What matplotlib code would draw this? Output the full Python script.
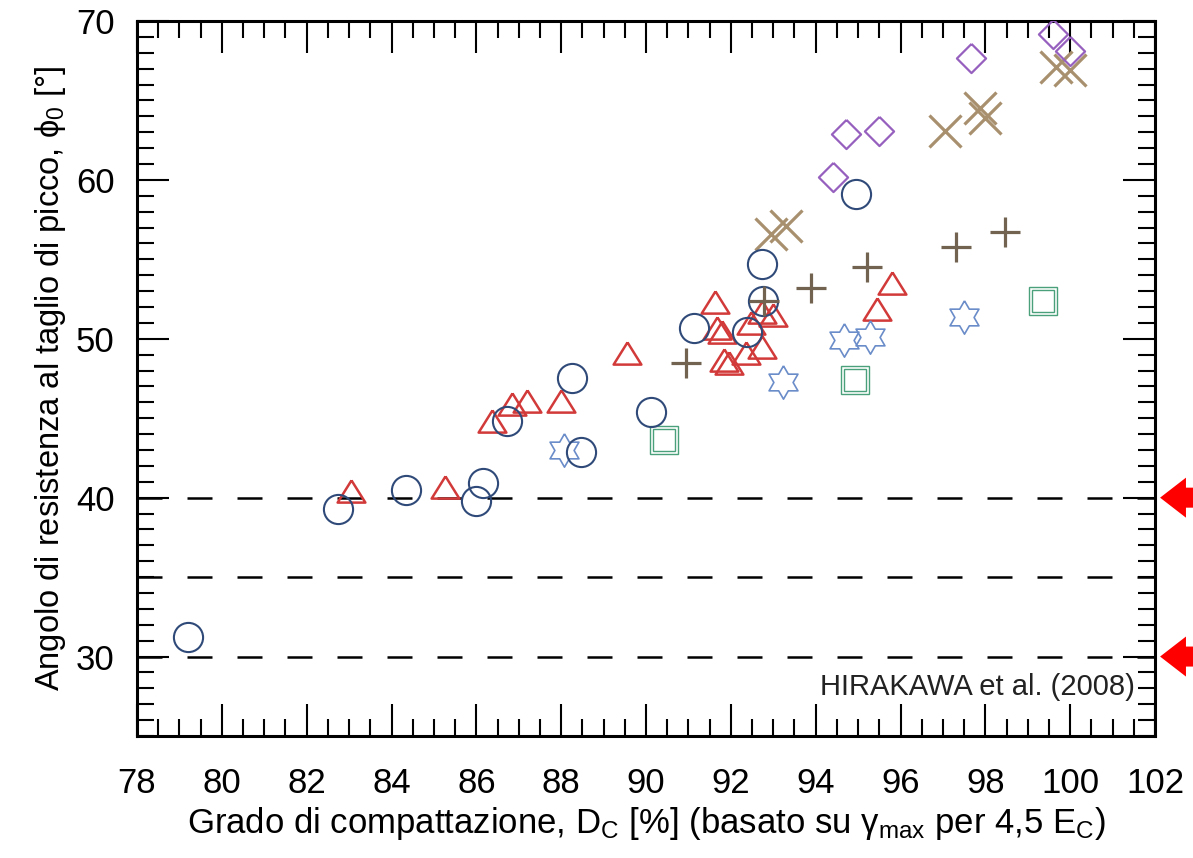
import numpy as np
import matplotlib
matplotlib.use("Agg")
import matplotlib.pyplot as plt
from matplotlib.patches import Polygon
from matplotlib.ticker import MultipleLocator, FixedLocator

plt.rcParams['font.family'] = ['Liberation Sans', 'DejaVu Sans']
plt.rcParams['mathtext.fontset'] = 'custom'
plt.rcParams['mathtext.rm'] = 'Liberation Sans'
plt.rcParams['mathtext.it'] = 'Liberation Sans'
plt.rcParams['mathtext.sf'] = 'Liberation Sans'
plt.rcParams['lines.scale_dashes'] = False

# ---- data ----
circles_x = [79.2, 82.75, 84.35, 85.99, 86.16, 86.72, 88.26, 88.47, 90.12, 91.13, 92.38, 92.76, 92.73, 94.94]
circles_y = [31.2, 39.3, 40.5, 39.8, 40.9, 44.8, 47.5, 42.9, 45.4, 50.7, 50.4, 52.4, 54.7, 59.1]

triangles_x = [83.05, 85.27, 86.38, 86.85, 87.2, 88.0, 89.55, 91.62, 91.67, 91.8, 91.84, 91.95,
               92.35, 92.47, 92.73, 92.73, 92.99, 95.44, 95.8]
triangles_y = [40.4, 40.7, 44.8, 45.9, 46.1, 46.1, 49.1, 52.3, 50.7, 50.4, 48.66, 48.5,
               49.1, 51.0, 49.5, 51.7, 51.5, 51.9, 53.5]

stars_x = [88.07, 93.22, 94.66, 95.27, 97.5]
stars_y = [43.0, 47.3, 49.9, 50.1, 51.4]

squares_x = [90.42, 94.92, 99.36]
squares_y = [43.6, 47.4, 52.4]

plus_x = [90.94, 92.78, 93.9, 95.2, 97.3, 98.47]
plus_y = [48.5, 52.4, 53.2, 54.5, 55.8, 56.7]

cross_x = [92.94, 93.29, 97.06, 97.88, 98.0, 99.67, 100.0]
cross_y = [56.6, 57.1, 63.1, 64.5, 63.9, 67.1, 66.9]

diamonds_x = [94.4, 94.72, 95.5, 97.67, 99.6, 100.0]
diamonds_y = [60.2, 62.9, 63.1, 67.7, 69.2, 68.1]

ref_lines = [40, 35, 30]
arrow_levels = [40, 30]

x_ticks = list(range(78, 103, 2))
y_ticks = [30, 40, 50, 60, 70]

xlabel = r'Grado di compattazione, D$_\mathrm{C}$ [%] (basato su $\gamma_\mathrm{max}$ per 4,5 E$_\mathrm{C}$)'
ylabel = r'Angolo di resistenza al taglio di picco, $\phi_0$ [°]'
note = 'HIRAKAWA et al. (2008)'

# ---- figure ----
W, H = 1193, 858
fig = plt.figure(figsize=(W / 100, H / 100), dpi=100)
ax = fig.add_axes([137 / W, 1 - 736 / H, (1155 - 137) / W, (736 - 21) / H])
ax.set_xlim(78, 102)
ax.set_ylim(25, 70)

for yv in ref_lines:
    ax.plot([78, 102], [yv, yv], color='black', lw=1.8, dashes=(18, 18), zorder=1)

# markers
tri_verts = [(0, 0.8), (-1, -0.8), (1, -0.8), (0, 0.8)]
dia_verts = [(0, 1), (1, 0), (0, -1), (-1, 0), (0, 1)]
ang = np.deg2rad(90 + np.arange(12) * 30)
rad = np.where(np.arange(12) % 2 == 0, 1.0, 1 / np.sqrt(3))
star_verts = list(zip(rad * np.cos(ang), rad * np.sin(ang)))
star_verts.append(star_verts[0])

ax.plot(triangles_x, triangles_y, ls='none', marker=tri_verts, ms=20, mfc='none',
        mec='#d23a3a', mew=1.8, zorder=3)
ax.plot(circles_x, circles_y, ls='none', marker='o', ms=21, mfc='none',
        mec='#2f4a78', mew=1.5, zorder=4)
ax.plot(stars_x, stars_y, ls='none', marker=star_verts, ms=24, mfc='none',
        mec='#6a8cc8', mew=1.2, zorder=3)
ax.plot(squares_x, squares_y, ls='none', marker='s', ms=20, mfc='none',
        mec='#4aa07a', mew=1.0, zorder=3)
ax.plot(squares_x, squares_y, ls='none', marker='s', ms=16.5, mfc='none',
        mec='#4aa07a', mew=1.0, zorder=3)
ax.plot(plus_x, plus_y, ls='none', marker='+', ms=22, mec='#716350', mew=2.3, zorder=5)
ax.plot(cross_x, cross_y, ls='none', marker='x', ms=23, mec='#a88f6e', mew=2.3, zorder=3)
ax.plot(diamonds_x, diamonds_y, ls='none', marker=dia_verts, ms=21, mfc='none',
        mec='#9660bf', mew=1.6, zorder=4)

# ticks
ax.xaxis.set_major_locator(FixedLocator(x_ticks))
ax.xaxis.set_minor_locator(MultipleLocator(0.5))
ax.yaxis.set_major_locator(FixedLocator(y_ticks))
ax.yaxis.set_minor_locator(MultipleLocator(1))
ax.tick_params(which='both', direction='in', top=True, right=True, width=1.5, color='black')
ax.tick_params(which='major', length=23)
ax.tick_params(which='minor', length=12)
ax.tick_params(axis='x', which='major', labelsize=25, pad=22)
ax.tick_params(axis='y', which='major', labelsize=25, pad=16)
for sp in ax.spines.values():
    sp.set_linewidth(2.2)

ax.set_xlabel(xlabel, fontsize=25, labelpad=4)
ax.set_ylabel(ylabel, fontsize=23.5, labelpad=6)

ax.text(101.53, 27.58, note, ha='right', va='baseline', fontsize=21, color='#222222')

# red arrows outside the right spine
for yv in arrow_levels:
    pts = [(102.12, yv), (102.73, yv + 1.26), (102.73, yv + 0.63), (103.2, yv + 0.63),
           (103.2, yv - 0.63), (102.73, yv - 0.63), (102.73, yv - 1.26)]
    ax.add_patch(Polygon(pts, closed=True, facecolor='#ff0000', edgecolor='none',
                         clip_on=False, zorder=6))

fig.savefig('out.png', dpi=100)
